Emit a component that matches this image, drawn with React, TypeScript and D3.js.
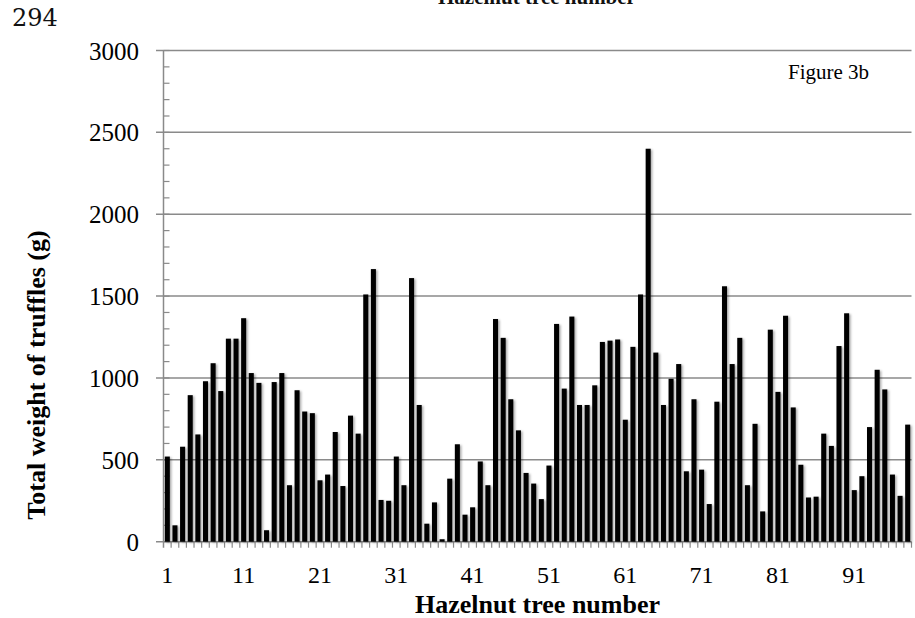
import React from "react";
import * as d3 from "d3";

const treeNumbers: number[] = Array.from({ length: 98 }, (_, i) => i + 1);
const truffleWeights: number[] = [
  520, 100, 580, 895, 655, 980, 1090, 920, 1240, 1240,
  1365, 1030, 970, 70, 975, 1030, 345, 925, 795, 785,
  375, 410, 670, 340, 770, 660, 1510, 1665, 255, 250,
  520, 345, 1610, 835, 110, 240, 15, 385, 595, 165,
  210, 490, 345, 1360, 1245, 870, 680, 420, 355, 260,
  465, 1330, 935, 1375, 835, 835, 955, 1220, 1228, 1235,
  745, 1190, 1510, 2400, 1155, 835, 995, 1085, 430, 870,
  440, 230, 855, 1560, 1085, 1245, 345, 720, 185, 1295,
  915, 1380, 820, 470, 270, 275, 660, 585, 1195, 1395,
  315, 400, 700, 1050, 930, 410, 280, 715,
];
const yTicks: number[] = [0, 500, 1000, 1500, 2000, 2500, 3000];
const yMinorTicks: number[] = d3.range(0, 3001, 100);
const xTickLabels: number[] = [1, 11, 21, 31, 41, 51, 61, 71, 81, 91];

const serif = "'Liberation Serif', 'Times New Roman', Times, serif";
const grid = "#8a8a8a";

export default function App() {
  const left = 163.5;
  const right = 911.5;
  const top = 50.5;
  const bottom = 541.7;

  const x = d3
    .scaleBand<number>()
    .domain(treeNumbers)
    .range([left, right])
    .paddingInner(0.34)
    .paddingOuter(0.17);
  const step = x.step();
  const y = d3.scaleLinear().domain([0, 3000]).range([bottom, top]);

  const bandStart = (n: number) => (x(n) as number) - step * 0.17;

  return (
    <svg
      width={915}
      height={618}
      style={{ position: "absolute", left: 0, top: 0, background: "#fff" }}
      fontFamily={serif}
    >
      <defs>
        <filter id="shadow" x="-50%" y="-10%" width="200%" height="120%">
          <feDropShadow dx="1.5" dy="1" stdDeviation="1" floodColor="#000" floodOpacity="0.35" />
        </filter>
      </defs>
      <rect x={0} y={0} width={915} height={618} fill="#fff" />

      {/* page number & clipped title */}
      <text x={12} y={26} fontSize={24} fontFamily="'DejaVu Serif', serif" fill="#111">
        294
      </text>
      <text x={537} y={4} fontSize={21} fontWeight="bold" textAnchor="middle" fill="#111">
        Hazelnut tree number
      </text>

      {/* gridlines */}
      {yTicks.map((t) => (
        <line
          key={"g" + t}
          x1={156}
          x2={right}
          y1={y(t)}
          y2={y(t)}
          stroke={grid}
          strokeWidth={1.5}
        />
      ))}

      {/* y axis */}
      <line x1={left} x2={left} y1={top} y2={bottom + 6} stroke={grid} strokeWidth={1.5} />
      {yMinorTicks.map((t) => (
        <line
          key={"m" + t}
          x1={left}
          x2={left + 6}
          y1={y(t)}
          y2={y(t)}
          stroke={grid}
          strokeWidth={1.2}
        />
      ))}

      {/* x minor ticks */}
      {treeNumbers.map((n) => (
        <line
          key={"xt" + n}
          x1={bandStart(n) + step}
          x2={bandStart(n) + step}
          y1={bottom}
          y2={bottom + 6}
          stroke={grid}
          strokeWidth={1.2}
        />
      ))}

      {/* bars */}
      <g filter="url(#shadow)">
        {treeNumbers.map((n, i) => (
          <rect
            key={"b" + n}
            x={x(n)}
            y={y(truffleWeights[i])}
            width={x.bandwidth()}
            height={bottom - y(truffleWeights[i])}
            fill="#000"
          />
        ))}
      </g>

      {/* y tick labels */}
      {yTicks.map((t) => (
        <text
          key={"yl" + t}
          x={139}
          y={y(t) + 9}
          fontSize={25}
          textAnchor="end"
          fill="#000"
        >
          {t}
        </text>
      ))}

      {/* x tick labels */}
      {xTickLabels.map((n) => (
        <text
          key={"xl" + n}
          x={(x(n) as number) + x.bandwidth() / 2}
          y={583}
          fontSize={24}
          textAnchor="middle"
          fill="#000"
        >
          {n}
        </text>
      ))}

      {/* axis titles */}
      <text
        x={(left + right) / 2}
        y={613}
        fontSize={26}
        fontWeight="bold"
        textAnchor="middle"
        fill="#000"
      >
        Hazelnut tree number
      </text>
      <text
        transform="translate(45,375) rotate(-90)"
        fontSize={26}
        fontWeight="bold"
        textAnchor="middle"
        fill="#000"
      >
        Total weight of truffles (g)
      </text>

      <text x={788} y={79} fontSize={21} fill="#000">
        Figure 3b
      </text>
    </svg>
  );
}
